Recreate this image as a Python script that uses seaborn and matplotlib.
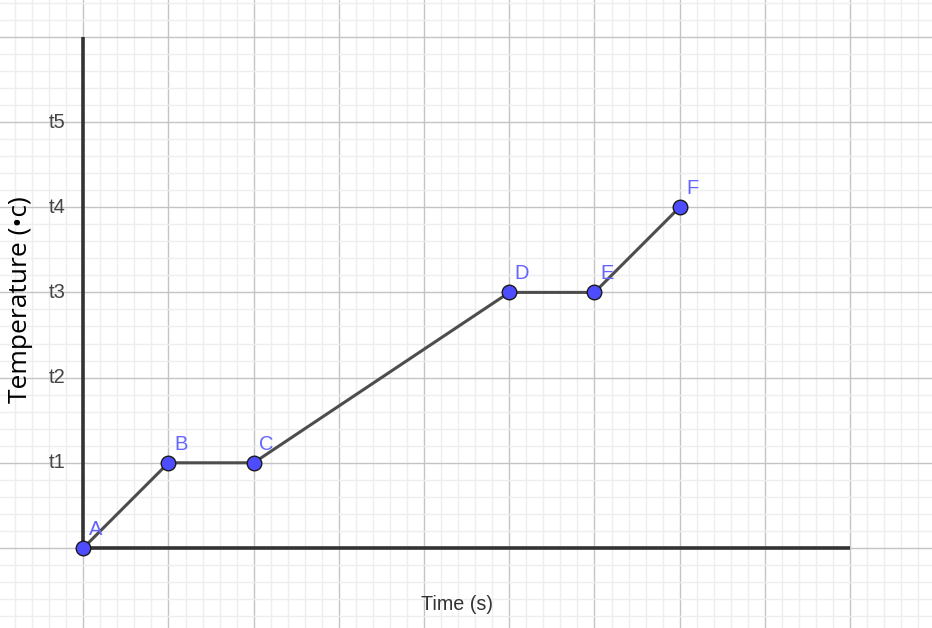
import matplotlib
matplotlib.use("Agg")
import matplotlib.pyplot as plt
import seaborn as sns
import numpy as np
import pandas as pd

# Data
point_names = ["A", "B", "C", "D", "E", "F"]
time_vals = [0, 1, 2, 5, 6, 7]
temp_vals = [0, 1, 1, 3, 3, 4]
ytick_vals = [1, 2, 3, 4, 5]
ytick_labels = ["t1", "t2", "t3", "t4", "t5"]
x_label = "Time (s)"
y_label = "Temperature (•c)"

df = pd.DataFrame({"time": time_vals, "temp": temp_vals, "name": point_names})

sns.set_theme(style="white")
fig = plt.figure(figsize=(9.32, 6.28), dpi=100)
ax = fig.add_axes([0, 0, 1, 1])

# data
sns.lineplot(data=df, x="time", y="temp", ax=ax, color="#4d4d4d", linewidth=2.2,
             sort=False, zorder=3)
sns.scatterplot(data=df, x="time", y="temp", ax=ax, color="#4d4dff", s=110,
                edgecolor="#1a1a1a", linewidth=1.0, zorder=4)
ax.set_xlabel("")
ax.set_ylabel("")

px = 85.2
x0 = 83.3
y0 = 548.0

# grid
ax.set_xticks(np.arange(-1, 11, 1))
ax.set_yticks(np.arange(-1, 8, 1))
ax.set_xticks(np.arange(-1, 11, 0.2), minor=True)
ax.set_yticks(np.arange(-1, 8, 0.2), minor=True)
ax.set_xlim(-x0 / px, (932 - x0) / px)
ax.set_ylim(-(628 - y0) / px, y0 / px)
ax.grid(which="minor", color="#eeeeee", linewidth=1.0)
ax.grid(which="major", color="#c4c4c4", linewidth=1.0)
ax.tick_params(which="both", length=0, labelbottom=False, labelleft=False)
ax.set_axisbelow(True)
for s in ax.spines.values():
    s.set_visible(False)

# axis lines
ax.vlines(0, 0, 6, color="#333333", linewidth=2.6, zorder=2)
ax.hlines(0, 0, 9, color="#333333", linewidth=2.6, zorder=2)

for n, x, y in zip(point_names, time_vals, temp_vals):
    ax.annotate(n, (x, y), xytext=(9, 13.5), textcoords="offset points",
                ha="center", va="center", color="#6464ff", fontsize=14.5,
                family=["Liberation Sans", "DejaVu Sans"], zorder=5)

for v, lab in zip(ytick_vals, ytick_labels):
    ax.text(-0.21, v, lab, ha="right", va="center", fontsize=14.5,
            color="#444444", family=["Liberation Sans", "DejaVu Sans"])

fig.text(457 / 932, 1 - 605 / 628, x_label, ha="center", va="center",
         fontsize=14.2, color="#333333", family=["Liberation Sans", "DejaVu Sans"])
fig.text(21 / 932, 1 - 300 / 628, y_label, ha="center", va="center",
         rotation=90, fontsize=19, color="#000000", family=["Open Sans", "DejaVu Sans"])

fig.savefig("out.png", dpi=100)
